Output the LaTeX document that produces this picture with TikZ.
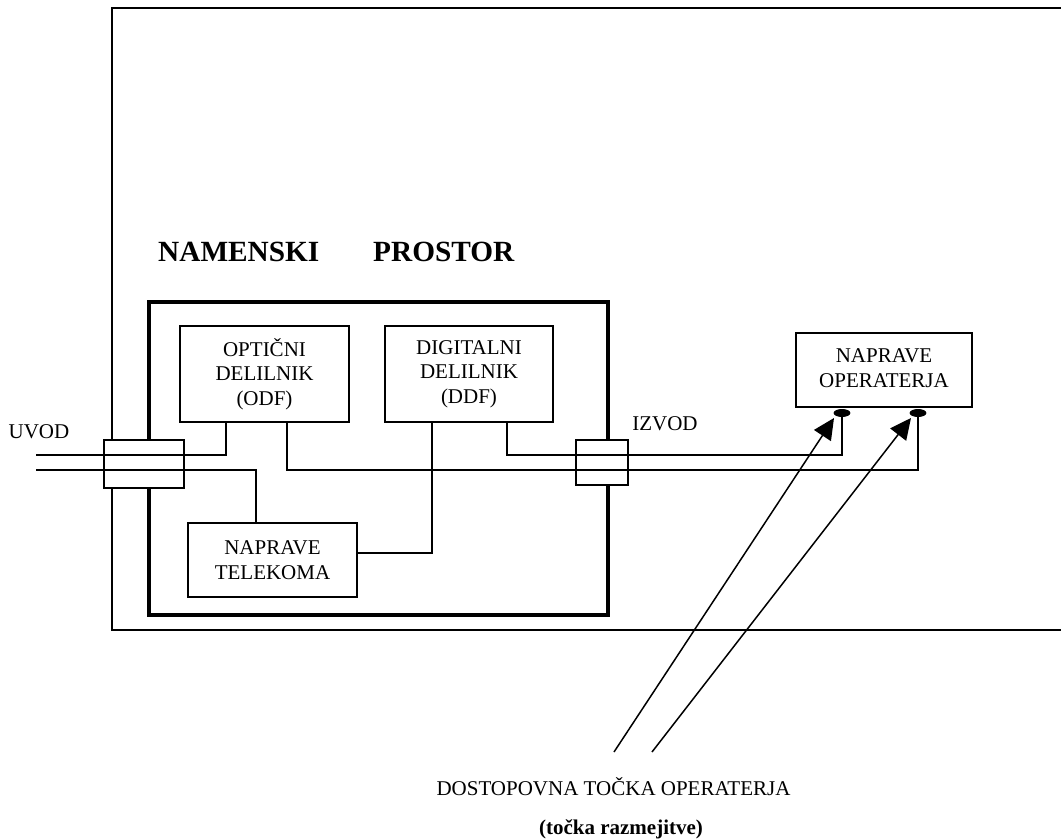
\documentclass[tikz,border=0pt]{standalone}
\usepackage{fontspec}
\setmainfont{Liberation Serif}
\usetikzlibrary{arrows.meta,calc}
\tikzset{
  x=1pt,y=-1pt,
  frame/.style={draw,line width=1.5pt,fill=white},
  bigbox/.style={frame,inner sep=0pt,align=center,font=\fontsize{21}{24.5}\selectfont},
  wire/.style={draw,line width=1.5pt},
  label/.style={inner sep=0pt,font=\fontsize{21}{24}\selectfont},
  pointer/.style={draw,line width=1.5pt,-{Triangle[length=21pt,width=20pt]}}
}
\begin{document}
\begin{tikzpicture}
\useasboundingbox (0,0) rectangle (1061,840);
% outer room
\coordinate (ot) at (1061,8);
\coordinate (ob) at (1061,630);
\draw[line width=1.5pt] (ot) -- (112,8) -- (112,630) -- (ob);
% dedicated space
\node[draw,line width=3.4pt,minimum width=459pt,minimum height=313pt,inner sep=0pt] (room) at (378.5,458.5) {};
\node[inner sep=0pt,anchor=west,font=\bfseries\fontsize{29.3}{32}\selectfont] (title1) at (158,252) {NAMENSKI};
\node[inner sep=0pt,anchor=west,font=\bfseries\fontsize{29.3}{32}\selectfont] (title2) at (373,252) {PROSTOR};
% boxes
\node[bigbox,minimum width=169pt,minimum height=96pt] (odf) at (264.5,374) {OPTIČNI\\DELILNIK\\(ODF)};
\node[bigbox,minimum width=168pt,minimum height=96pt] (ddf) at (469,374) {DIGITALNI\\DELILNIK\\(DDF)};
\node[bigbox,minimum width=169pt,minimum height=74pt] (tel) at (272.5,560) {NAPRAVE\\TELEKOMA};
\node[bigbox,minimum width=176pt,minimum height=74pt] (opr) at (884,370) {NAPRAVE\\OPERATERJA\\[-20.5pt]\mbox{}};
% clamps
\node[frame,minimum width=80pt,minimum height=48pt,inner sep=0pt] (cl) at (144,464) {};
\node[frame,minimum width=52pt,minimum height=45pt,inner sep=0pt] (cr) at (602,462.5) {};
% end dots
\node[fill,draw=none,shape=circle,inner sep=0pt,minimum size=8pt,xscale=2.1] (d1) at (842,413) {};
\node[fill,draw=none,shape=circle,inner sep=0pt,minimum size=8pt,xscale=2.1] (d2) at (918,413) {};
% wires
\coordinate (w1) at (36,455);
\coordinate (w2) at (36,470);
\draw[wire] (w1) -- (226,455) -- (226,422);
\draw[wire] (w2) -- (256,470) -- (256,523);
\draw[wire] (287,422) -- (287,470) -- (918,470) -- (d2.center);
\draw[wire] (507,422) -- (507,455) -- (842,455) -- (d1.center);
\draw[wire] (432,422) -- (432,553) -- (357,553);
% pointers
\coordinate (p1) at (614,752);
\coordinate (p2) at (652,752);
\coordinate (t1) at (834,418);
\coordinate (t2) at (911,418);
\draw[pointer] (p1) -- (t1);
\draw[pointer] (p2) -- (t2);
% labels
\node[label] (uvod) at (39,432) {UVOD};
\node[label] (izvod) at (665,424) {IZVOD};
\node[label] (dto) at (613.5,787) {DOSTOPOVNA TOČKA OPERATERJA};
\node[label,font=\bfseries\fontsize{21}{24}\selectfont] (raz) at (621,829) {(točka razmejitve)};
\end{tikzpicture}
\end{document}
